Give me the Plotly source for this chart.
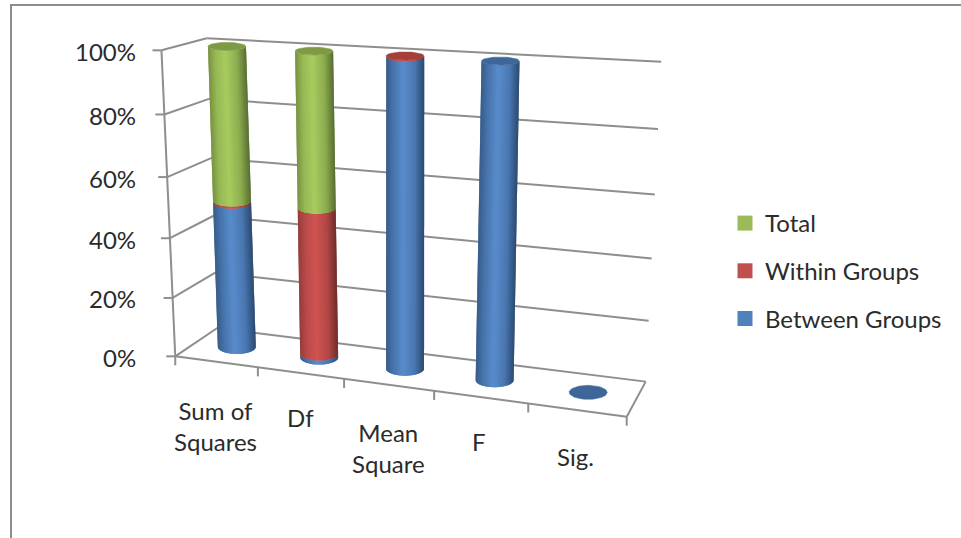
import numpy as np
import plotly.graph_objects as go

# ---- data (percent of each category's stack)
categories = ["Sum of<br>Squares", "Df", "Mean<br>Square", "F", "Sig."]
between_groups = [49.3, 1.4, 99.6, 100.0, 0.0]
within_groups = [0.7, 48.8, 0.4, 0.0, 0.0]
total = [50.0, 49.8, 0.0, 0.0, 0.0]
value_ticks = [0, 20, 40, 60, 80, 100]
value_tick_labels = ["0%", "20%", "40%", "60%", "80%", "100%"]

W, H = 961, 538
FONT = "Lato"
GRID = "#8e8e8e"

# ---- oblique chart box: category position, depth, value -> plot coordinates
calib = [
    ((0, 0, 0), (175, 357)), ((5, 0, 0), (627, 416)), ((5, 1, 0), (645, 381)), ((0, 1, 0), (218, 329)),
    ((0, 0, 100), (162, 50)), ((0, 1, 100), (205, 38)), ((5, 1, 100), (662, 62)),
    ((1, 0, 0), (258, 368)), ((2, 0, 0), (343, 379)), ((3, 0, 0), (433, 392)), ((4, 0, 0), (528, 404)),
    ((.5, .5, 100), (227.5, 47)), ((1.5, .5, 100), (314, 52)), ((2.5, .5, 100), (405, 56)), ((3.5, .5, 100), (500, 61)),
    ((.5, .5, 0), (236.7, 346)), ((1.5, .5, 0), (319.6, 357)), ((2.5, .5, 0), (405.5, 368)),
    ((3.5, .5, 0), (495, 380)), ((4.5, .5, 0), (589, 392.7)),
    ((0, 0, 20), (172.5, 298)), ((0, 0, 40), (170, 238)), ((0, 0, 60), (167.5, 176)), ((0, 0, 80), (165, 114)),
]
A = []
for (x, d, z), (u, v) in calib:
    X = [x, d, z / 100, 1]
    u, v = u / 500, v / 500
    A.append(X + [0, 0, 0, 0] + [-u * c for c in X])
    A.append([0, 0, 0, 0] + X + [-v * c for c in X])
P = np.linalg.svd(np.array(A, float))[2][-1].reshape(3, 4)


def project(x, d, z):
    q = P @ np.array([x, d, z / 100, 1.0])
    return 500 * q[0] / q[2], 500 * q[1] / q[2]


def polyline(points):
    xs, ys = [], []
    for a, b in points:
        xs += [a[0], b[0], None]
        ys += [a[1], b[1], None]
    return go.Scatter(x=xs, y=ys, mode="lines", line=dict(color=GRID, width=2),
                      hoverinfo="skip", showlegend=False)


def mix(stops, t):
    ts = [s[0] for s in stops]
    return "rgb(%d,%d,%d)" % tuple(np.interp(t, ts, [s[1][i] for s in stops]) for i in range(3))


fig = go.Figure()

# ---- walls and floor
n = len(categories)
segs = []
for z in value_ticks:
    segs.append((project(0, 0, z), project(0, 1, z)))
    segs.append((project(0, 1, z), project(n, 1, z)))
    fx, fy = project(0, 0, z)
    segs.append(((fx - 9, fy), (fx, fy)))
segs.append((project(0, 0, 0), project(0, 0, 100)))
segs.append((project(0, 0, 0), project(n, 0, 0)))
segs.append((project(n, 0, 0), project(n, 1, 0)))
for i in range(n + 1):
    fx, fy = project(i, 0, 0)
    segs.append(((fx, fy), (fx, fy + 9)))
fig.add_trace(polyline(segs))

# ---- cylinders
styles = {
    "Between Groups": dict(values=between_groups, key="#4f81bd", cap="#3e6699", stops=[
        (0, (56, 92, 138)), (.2, (72, 118, 174)), (.45, (90, 140, 204)), (.75, (74, 120, 178)), (1, (44, 74, 112))]),
    "Within Groups": dict(values=within_groups, key="#c0504d", cap="#a53f3c", stops=[
        (0, (150, 60, 58)), (.2, (186, 76, 74)), (.45, (208, 84, 82)), (.75, (178, 72, 70)), (1, (112, 44, 42))]),
    "Total": dict(values=total, key="#9bbb59", cap="#7f9a44", stops=[
        (0, (120, 146, 66)), (.2, (152, 186, 86)), (.45, (168, 204, 94)), (.75, (142, 174, 80)), (1, (88, 110, 50))]),
}
RX = 19
STRIPS = 26


def centre(i, z):
    return project(i + .5, .5, z)


def half_h(z):
    return 7 - 3 * z / 100


for i in range(n):
    base = 0.0
    top_cap = styles["Between Groups"]["cap"]
    for name, st in styles.items():
        v = st["values"][i]
        if v <= 0:
            continue
        z0, z1 = base, base + v
        th = np.linspace(np.pi, 0, STRIPS + 1)
        for k in range(STRIPS):
            # each strip reaches under the next one, so no seams show between them
            a = np.linspace(th[k], th[min(k + 2, STRIPS)], 7)
            c0, c1 = centre(i, z0), centre(i, z1)
            xs = list(c0[0] + RX * np.cos(a)) + list(c1[0] + RX * np.cos(a[::-1]))
            ys = list(c0[1] + half_h(z0) * np.sin(a)) + list(c1[1] + half_h(z1) * np.sin(a[::-1]))
            t = (np.cos((th[k] + th[k + 1]) / 2) + 1) / 2
            col = mix(st["stops"], t)
            fig.add_trace(go.Scatter(x=xs + xs[:1], y=ys + ys[:1], mode="lines", fill="toself",
                                     fillcolor=col, line=dict(color=col, width=0),
                                     hoverinfo="skip", showlegend=False))
        base = z1
        top_cap = st["cap"]
    a = np.linspace(0, 2 * np.pi, 61)
    c = centre(i, base)
    hh = half_h(base)
    fig.add_trace(go.Scatter(x=c[0] + RX * np.cos(a), y=c[1] + hh * np.sin(a), mode="lines", fill="toself",
                             fillcolor=top_cap, line=dict(color=top_cap, width=0.5),
                             hoverinfo="skip", showlegend=False))

# ---- legend (top to bottom: Total, Within Groups, Between Groups)
for name in ["Total", "Within Groups", "Between Groups"]:
    fig.add_trace(go.Scatter(x=[None], y=[None], mode="markers", name=name, legendgroup=name,
                             marker=dict(symbol="square", size=15, color=styles[name]["key"])))

# ---- text
notes = []
for z, lab in zip(value_ticks, value_tick_labels):
    fx, fy = project(0, 0, z)
    notes.append(dict(x=138, y=fy + 1, text=lab, xanchor="right", yanchor="middle", showarrow=False))
label_at = [(215, 426), (300, 417), (388, 448), (479, 441), (575, 456)]
for cat, (lx, ly) in zip(categories, label_at):
    notes.append(dict(x=lx, y=ly, text=cat, xanchor="center", yanchor="middle", showarrow=False, align="center"))

fig.update_layout(
    width=W, height=H, margin=dict(l=0, r=0, t=0, b=0),
    paper_bgcolor="white", plot_bgcolor="white",
    xaxis=dict(range=[0, W], visible=False, fixedrange=True),
    yaxis=dict(range=[H, 0], visible=False, fixedrange=True),
    font=dict(family=FONT, size=24, color="#2b2b2b"),
    annotations=notes,
    legend=dict(x=725 / W, y=1 - 201 / H, xanchor="left", yanchor="top", tracegroupgap=13.5,
                font=dict(family=FONT, size=24, color="#2b2b2b"), bgcolor="rgba(0,0,0,0)",
                traceorder="grouped"),
    shapes=[dict(type="path", xref="x", yref="y", path=f"M 11 {H} L 11 5 L {W} 5",
                 line=dict(color="#8c8c8c", width=2))],
)
fig.write_html("out.html", config={"displayModeBar": False},
               post_script="document.body.style.margin='0';document.body.style.overflow='hidden';")
